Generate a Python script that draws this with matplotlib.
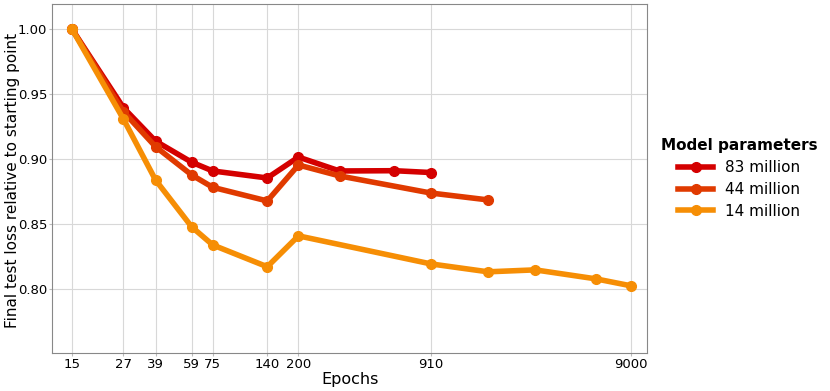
import matplotlib
matplotlib.use('Agg')
import matplotlib.pyplot as plt
from matplotlib.ticker import FixedLocator, NullLocator

# epochs and loss (relative to starting point) per model size
epochs_83 = [15, 27, 39, 59, 75, 140, 200, 320, 600, 910]
loss_83 = [1.000, 0.9395, 0.9138, 0.8975, 0.8908, 0.8854, 0.9015, 0.8908, 0.8910, 0.8896]

epochs_44 = [15, 27, 39, 59, 75, 140, 200, 320, 910, 1750]
loss_44 = [1.000, 0.9364, 0.9095, 0.8877, 0.8782, 0.8677, 0.8954, 0.8870, 0.8738, 0.8685]

epochs_14 = [15, 27, 39, 59, 75, 140, 200, 910, 1750, 3000, 6000, 9000]
loss_14 = [1.000, 0.9308, 0.8838, 0.8477, 0.8338, 0.8170, 0.8408, 0.8192, 0.8131, 0.8146, 0.8077, 0.8023]

tick_epochs = [15, 27, 39, 59, 75, 140, 200, 910, 9000]
y_ticks = [0.80, 0.85, 0.90, 0.95, 1.00]

series = [
    ('83 million', epochs_83, loss_83, '#d40000'),
    ('44 million', epochs_44, loss_44, '#e03a00'),
    ('14 million', epochs_14, loss_14, '#f68e05'),
]

fig = plt.figure(figsize=(8.3, 3.91), dpi=100)
ax = fig.add_axes([0.0627, 0.097, 0.717, 0.893])

for label, x, y, col in series:
    ax.plot(x, y, marker='o', markersize=7, linewidth=4, color=col, label=label)

ax.set_xscale('log')
ax.xaxis.set_major_locator(FixedLocator(tick_epochs))
ax.xaxis.set_minor_locator(NullLocator())
ax.set_xticklabels([str(t) for t in tick_epochs])
ax.set_xlim(11.93, 10810)
ax.set_yticks(y_ticks)
ax.set_yticklabels([f'{v:.2f}' for v in y_ticks])
ax.set_ylim(0.7505, 1.0195)

ax.grid(True, color='#d8d8d8', linewidth=0.8)
ax.set_axisbelow(True)
for s in ax.spines.values():
    s.set_color('#888888')
ax.tick_params(colors='#bbbbbb', labelcolor='black', labelsize=9.5, length=2, pad=1.5)

ax.set_xlabel('Epochs', fontsize=11.5, labelpad=1)
ax.set_ylabel('Final test loss relative to starting point', fontsize=11)
ax.yaxis.set_label_coords(-0.054, 0.493)

leg = ax.legend(title='Model parameters', loc='center left', bbox_to_anchor=(1.0, 0.5),
                frameon=False, fontsize=11, handlelength=2.3, labelspacing=0.45,
                title_fontproperties={'weight': 'bold', 'size': 11})

fig.savefig('out.png', dpi=100)
